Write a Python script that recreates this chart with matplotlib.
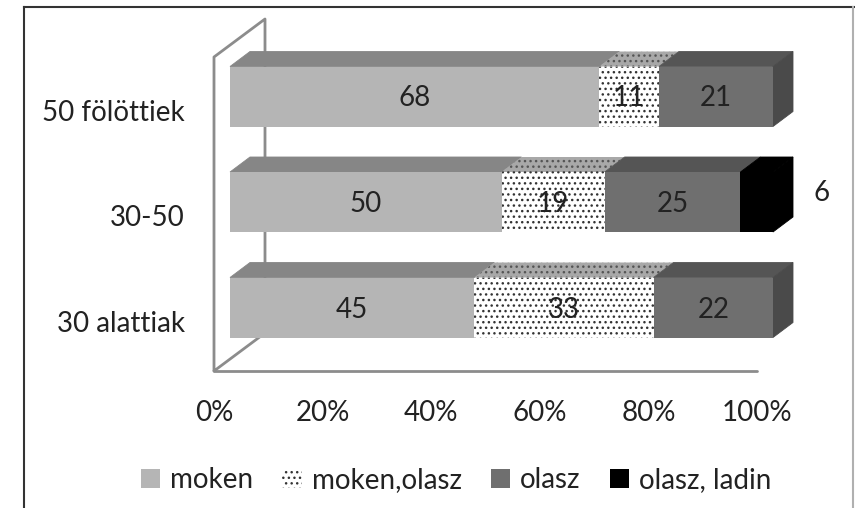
import matplotlib
matplotlib.use('Agg')
import matplotlib.pyplot as plt
from matplotlib.lines import Line2D
from matplotlib.patches import Patch, Polygon

plt.rcParams['font.family'] = ['Lato', 'DejaVu Sans']
plt.rcParams['hatch.linewidth'] = 1.0

categories = ['30 alattiak', '30-50', '50 fölöttiek']
moken = [45, 50, 68]
moken_olasz = [33, 19, 11]
olasz = [22, 25, 21]
olasz_ladin = [0, 6, 0]
series_names = ['moken', 'moken,olasz', 'olasz', 'olasz, ladin']
xticks = [0, 20, 40, 60, 80, 100]

W, H = 855, 508
X0, X1 = 214, 757
Y_FLOOR, Y_TOP = 371, 57
FS = 20

fig = plt.figure(figsize=(W / 100, H / 100), dpi=100)
ax = fig.add_axes([X0 / W, 1 - Y_FLOOR / H, (X1 - X0) / W, (Y_FLOOR - Y_TOP) / H])

px_x = 100 / (X1 - X0)
px_y = 1 / 105.5
ax.set_xlim(0, 100)
ax.set_ylim(-(Y_FLOOR - 307.5) * px_y, (307.5 - Y_TOP) * px_y)

off = 16 * px_x      # bars start a bit inside the floor
dx = 20 * px_x       # bar depth
dy = 15 * px_y
bar_h = 60 * px_y

styles = [
    dict(front='#b5b5b5', top='#868686', side='#868686', hatch=None),
    dict(front='white', top='#a8a8a8', side='#a8a8a8', hatch='...'),
    dict(front='#6f6f6f', top='#555555', side='#4a4a4a', hatch=None),
    dict(front='black', top='black', side='black', hatch=None),
]

# walls
ymin, ymax = ax.get_ylim()
wall = dict(color='#8c8c8c', lw=2, solid_capstyle='round', clip_on=False, zorder=1)
bx = 51 * px_x
by = 38 * px_y
ax.plot([0, 0, bx, bx, 0], [ymin, ymax, ymax + by, ymin + by, ymin], **wall)
ax.plot([0, 100], [ymin, ymin], **wall)

all_series = [moken, moken_olasz, olasz, olasz_ladin]
for row in range(len(categories)):
    left = off
    last = None
    for vals, st in zip(all_series, styles):
        v = vals[row]
        if v == 0:
            continue
        ax.barh(row, v, left=left, height=bar_h, color=st['front'], hatch=st['hatch'],
                edgecolor='#333333' if st['hatch'] else st['front'], lw=0, zorder=3, clip_on=False)
        top = [(left, row + bar_h / 2), (left + v, row + bar_h / 2),
               (left + v + dx, row + bar_h / 2 + dy), (left + dx, row + bar_h / 2 + dy)]
        ax.add_patch(Polygon(top, closed=True, facecolor=st['top'], hatch=st['hatch'],
                             edgecolor='#555555' if st['hatch'] else st['top'],
                             lw=0 if st['hatch'] else 0.6, zorder=2, clip_on=False))
        if st['front'] != 'black':
            ax.text(left + v / 2, row - 2 * px_y, str(v), ha='center', va='center', fontsize=FS,
                    color='#222222', zorder=5)
        else:
            # small slice, its label sits outside the bar
            ax.text(left + v + 49 * px_x, row + 9 * px_y, str(v), ha='center', va='center', fontsize=FS,
                    color='#222222', zorder=5, clip_on=False)
        left += v
        last = st
    side = [(left, row + bar_h / 2), (left + dx, row + bar_h / 2 + dy),
            (left + dx, row - bar_h / 2 + dy), (left, row - bar_h / 2)]
    ax.add_patch(Polygon(side, closed=True, facecolor=last['side'], edgecolor=last['side'], lw=0.6,
                         zorder=2, clip_on=False))

for s in ax.spines.values():
    s.set_visible(False)
ax.patch.set_visible(False)
ax.set_xticks(xticks)
ax.set_xticklabels(['%d%%' % t for t in xticks], fontsize=FS, color='#222222')
ax.tick_params(axis='x', length=0, pad=21)
ax.set_yticks([r - 14 * px_y for r in range(len(categories))])
ax.set_yticklabels(categories, fontsize=FS, color='#222222')
ax.tick_params(axis='y', length=0, pad=21)

handles = [Patch(facecolor=st['front'], hatch=st['hatch'], edgecolor='#333333' if st['hatch'] else st['front'],
                 lw=0, label=n) for st, n in zip(styles, series_names)]
fig.legend(handles=handles, ncol=4, frameon=False, fontsize=FS, loc='center', labelcolor='#222222',
           bbox_to_anchor=(456 / W, 1 - 480 / H), handlelength=0.7, handleheight=0.7,
           handletextpad=0.35, columnspacing=1.05, borderpad=0)

# frame of the pasted picture
fig.add_artist(Line2D([24 / W, 24 / W], [0, 1 - 7 / H], color='#333333', lw=1.5))
fig.add_artist(Line2D([24 / W, 1], [1 - 7 / H, 1 - 7 / H], color='#333333', lw=1.5))
fig.add_artist(Line2D([853 / W, 853 / W], [0, 1 - 7 / H], color='#b0b0b0', lw=1.5))

fig.savefig('out.png', dpi=100)
